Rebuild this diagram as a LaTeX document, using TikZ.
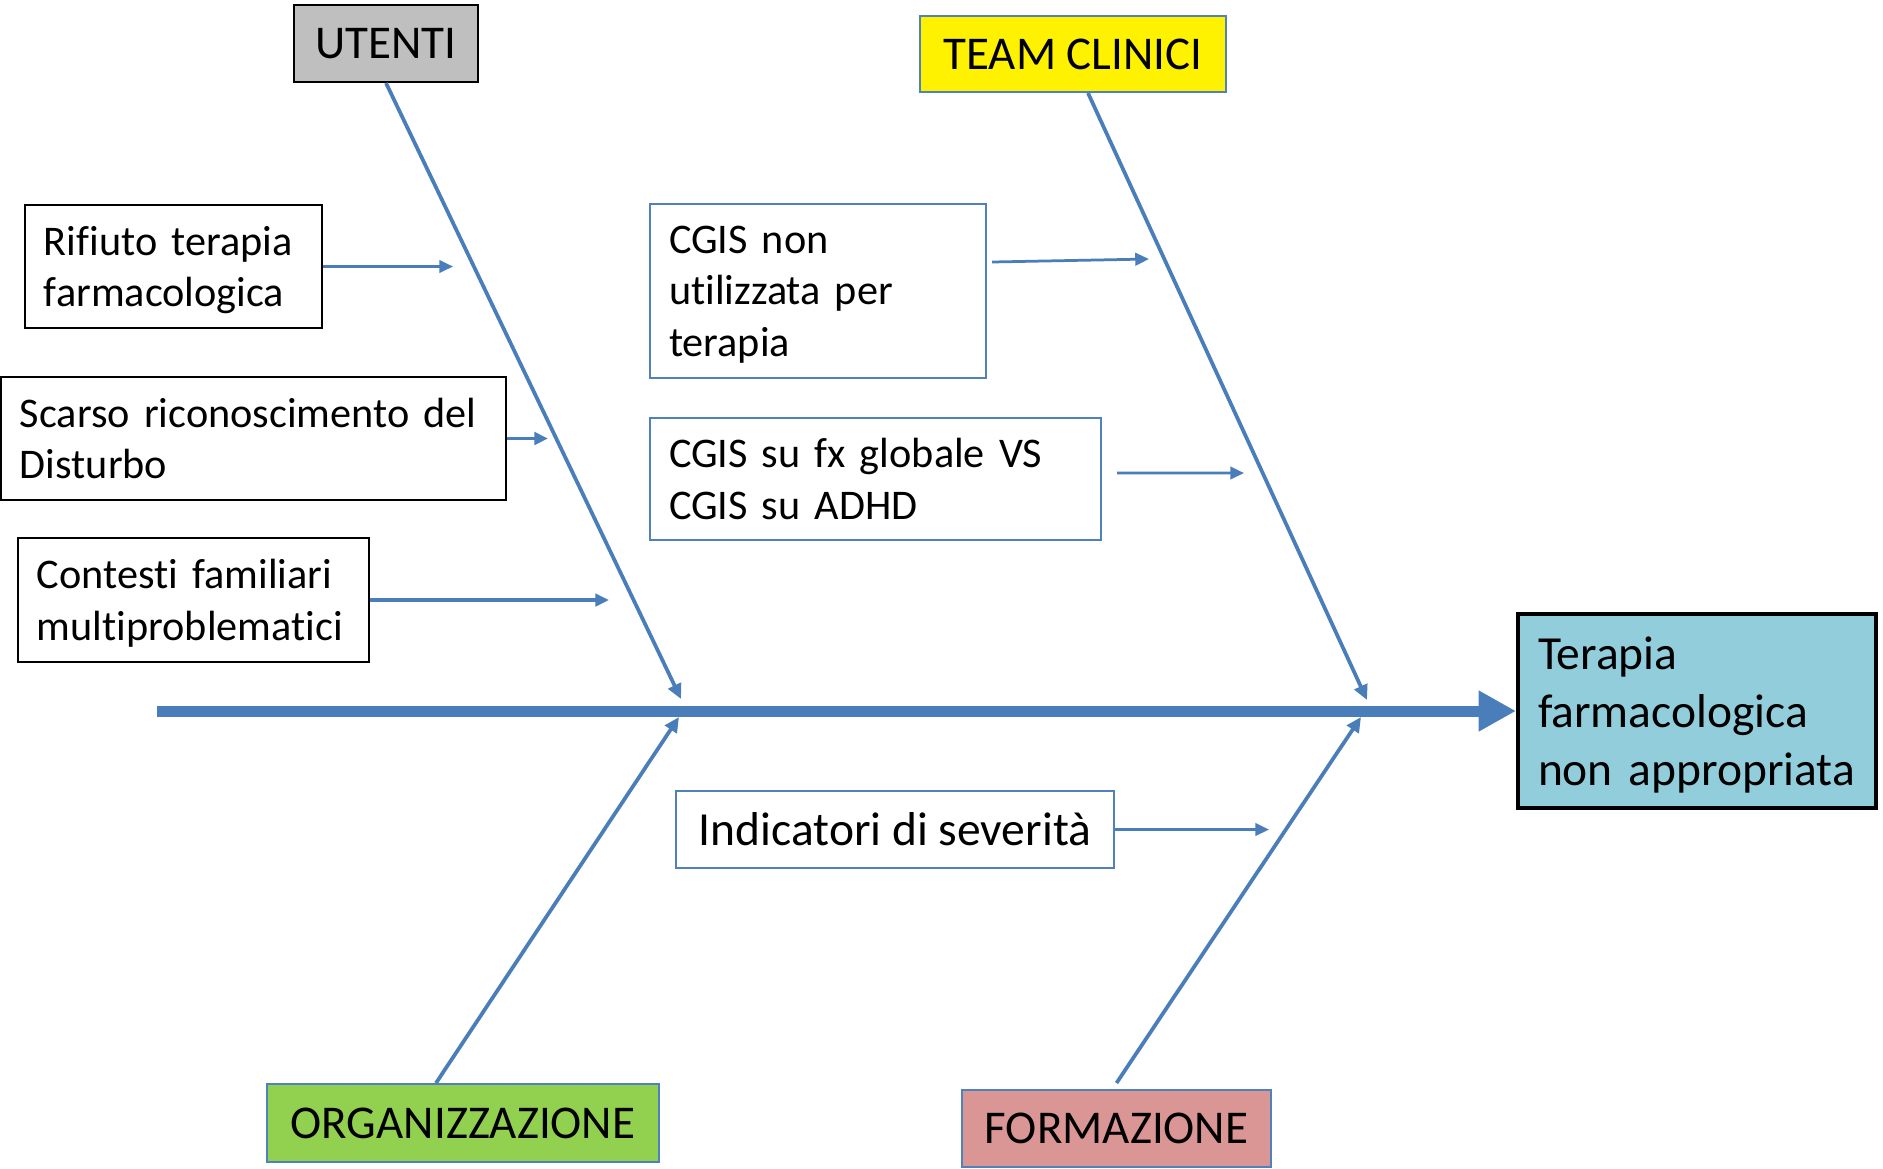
\documentclass[tikz,border=0pt]{standalone}
\usepackage{fontspec}
\setmainfont{Carlito}[Ligatures={NoCommon}]
\usetikzlibrary{arrows.meta}
\definecolor{fbblue}{RGB}{74,126,187}
\definecolor{boxblue}{RGB}{79,129,189}
\definecolor{utgray}{RGB}{191,191,191}
\definecolor{orggreen}{RGB}{146,208,80}
\definecolor{formpink}{RGB}{218,150,148}
\definecolor{tercyan}{RGB}{146,205,220}
\newcommand\nodp[1]{\raisebox{0pt}[\height][0pt]{#1}}
\tikzset{
  cause/.style={draw=black, line width=0.8pt, fill=white, align=left, inner xsep=7.6pt, inner ysep=0pt,
    font=\fontsize{16.9}{20.6}\selectfont},
  bluecause/.style={cause, draw=boxblue},
  header/.style={draw=boxblue, line width=0.8pt, inner sep=0pt, font=\fontsize{18.8}{22}\selectfont},
  spoke/.style={fbblue, line width=1.1pt, -{Triangle[length=5.5pt,width=5pt]}},
  bone/.style={fbblue, line width=1.5pt, -{Triangle[length=6pt,width=5.5pt]}},
}
\begin{document}
\begin{tikzpicture}[x=0.4pt,y=-0.4pt]
\useasboundingbox[fill=white] (0,0) rectangle (1883,1168);

% headers
\node[header, draw=black, fill=utgray, minimum width=73.6pt, minimum height=30.8pt] (ut) at (386,43.5) {UTENTI};
\node[header, fill=yellow, minimum width=122.4pt, minimum height=30.4pt] (tc) at (1073,54) {TEAM CLINICI};
\node[header, fill=orggreen, minimum width=156.8pt, minimum height=31.2pt] (org) at (463,1123) {ORGANIZZAZIONE};
\node[header, fill=formpink, minimum width=123.6pt, minimum height=30.8pt] (form) at (1116.5,1128.5) {FORMAZIONE};

% effect
\node[draw=black, line width=1.6pt, fill=tercyan, align=left, inner xsep=8pt, inner ysep=0pt,
  text width=127.2pt, minimum height=77.6pt, font=\fontsize{19}{23.2}\selectfont] (ter) at (1697,711)
  {Terapia\\farmacologica\\\nodp{non appropriata}};

% causes
\node[cause, text width=103.6pt, minimum height=49.2pt] (rif) at (173.5,266.5) {Rifiuto terapia\\\nodp{farmacologica}};
\node[cause, text width=186.8pt, minimum height=49.2pt] (sca) at (253.5,438.5) {Scarso riconoscimento del\\Disturbo};
\node[cause, text width=125.2pt, minimum height=49.6pt] (con) at (193.5,600) {Contesti familiari\\\nodp{multiproblematici}};
\node[bluecause, text width=119.2pt, minimum height=69.6pt] (cgn) at (818,291) {CGIS non\\utilizzata per\\\nodp{terapia}};
\node[bluecause, text width=165.2pt, minimum height=48.8pt] (cgf) at (875.5,479) {CGIS su fx globale VS\\CGIS su ADHD};
\node[draw=boxblue, line width=0.8pt, fill=white, inner sep=0pt, minimum width=175.2pt, minimum height=30.8pt,
  font=\fontsize{19}{22}\selectfont] (ind) at (895,829.5) {Indicatori di severità};

% spine
\coordinate (tail) at (157,711);
\draw[fbblue, line width=4.4pt, -{Triangle[length=15pt,width=15.4pt]}] (tail) -- (ter.west);

% main bones
\coordinate (utEnd) at (681,699);
\coordinate (tcEnd) at (1367,700);
\coordinate (orEnd) at (679,717);
\coordinate (foEnd) at (1361,717);
\draw[bone] (ut.south) -- (utEnd);
\draw[bone] ([xshift=6pt]tc.south) -- (tcEnd);
\draw[bone] ([xshift=-10.8pt]org.north) -- (orEnd);
\draw[bone] ([yshift=2.4pt]form.north) -- (foEnd);

% sub causes
\coordinate (a1) at (453,266.5);
\coordinate (a2) at (548,438.5);
\coordinate (a3) at (609,600);
\coordinate (b1) at (1149,259);
\coordinate (b2) at (1244,473);
\coordinate (c1) at (1269,829.5);
\draw[spoke] (rif.east) -- (a1);
\draw[spoke, line width=1.5pt] (sca.east) -- (a2);
\draw[spoke, line width=1.3pt] (con.east) -- (a3);
\draw[spoke] ([xshift=2pt,yshift=11.6pt]cgn.east) -- (b1);
\draw[spoke] ([xshift=6pt,yshift=2.4pt]cgf.east) -- (b2);
\draw[spoke] (ind.east) -- (c1);
\end{tikzpicture}
\end{document}
